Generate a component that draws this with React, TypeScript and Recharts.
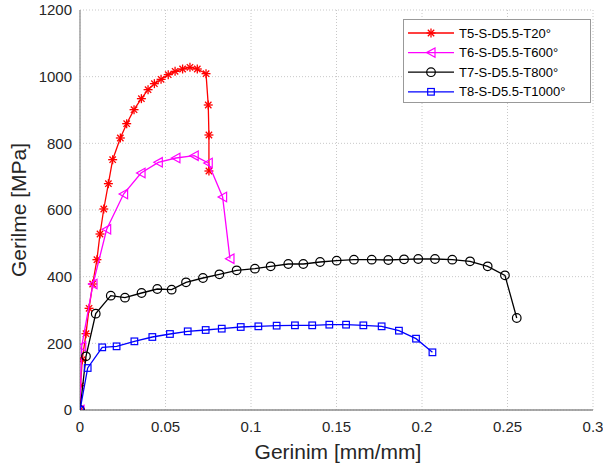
import { CartesianGrid, Scatter, ScatterChart, XAxis, YAxis } from "recharts"

const t5Strain = [0, 0.0003, 0.0013, 0.0035, 0.0053, 0.0074, 0.0099, 0.0117, 0.0139, 0.0166, 0.0191, 0.0236, 0.0273, 0.0316, 0.0359, 0.0398, 0.0435, 0.0474, 0.0516, 0.0556, 0.06, 0.0643, 0.0686, 0.0737, 0.075, 0.0754, 0.0754]
const t5Stress = [0, 73, 151, 229, 305, 378, 451, 528, 603, 679, 751, 816, 859, 901, 934, 961, 979, 992, 1006, 1016, 1023, 1028, 1023, 1009, 915, 825, 717]

const t6Strain = [0, 0.001, 0.0076, 0.0156, 0.0255, 0.0357, 0.0458, 0.0561, 0.0668, 0.075, 0.0834, 0.0877]
const t6Stress = [0, 191, 378, 542, 648, 711, 743, 756, 763, 741, 639, 454]

const t7Strain = [0, 0.0035, 0.0092, 0.018, 0.0263, 0.036, 0.0452, 0.0536, 0.062, 0.0719, 0.0815, 0.0916, 0.1023, 0.1115, 0.1218, 0.1306, 0.1404, 0.1501, 0.1602, 0.1706, 0.1803, 0.1895, 0.1978, 0.2076, 0.2177, 0.2281, 0.2384, 0.2485, 0.2554]
const t7Stress = [0, 161, 289, 343, 337, 351, 363, 361, 383, 396, 407, 419, 424, 431, 438, 438, 444, 448, 451, 451, 450, 452, 453, 453, 451, 446, 431, 404, 276]

const t8Strain = [0, 0.0045, 0.013, 0.0214, 0.0318, 0.0423, 0.0526, 0.063, 0.0735, 0.0829, 0.094, 0.1043, 0.115, 0.1257, 0.1358, 0.1458, 0.1556, 0.1657, 0.1764, 0.1865, 0.1965, 0.2061]
const t8Stress = [0, 126, 188, 191, 206, 219, 228, 236, 240, 244, 249, 251, 253, 254, 254, 256, 256, 254, 251, 238, 214, 173]

const xTicks = [0, 0.05, 0.1, 0.15, 0.2, 0.25, 0.3]
const yTicks = [0, 200, 400, 600, 800, 1000, 1200]

const FONT = "'Liberation Sans', Arial, sans-serif"

const zip = (xs: number[], ys: number[]) => xs.map((x, i) => ({ x, y: ys[i] }))

function Asterisk({ cx, cy, color }: any) {
  const r = 4.5
  const d = r * 0.707
  return (
    <g stroke={color} strokeWidth={1.3}>
      <line x1={cx - r} y1={cy} x2={cx + r} y2={cy} />
      <line x1={cx} y1={cy - r} x2={cx} y2={cy + r} />
      <line x1={cx - d} y1={cy - d} x2={cx + d} y2={cy + d} />
      <line x1={cx - d} y1={cy + d} x2={cx + d} y2={cy - d} />
    </g>
  )
}

function TriLeft({ cx, cy, color }: any) {
  return (
    <polygon
      points={`${cx - 4.5},${cy} ${cx + 4},${cy - 4.7} ${cx + 4},${cy + 4.7}`}
      fill="none"
      stroke={color}
      strokeWidth={1.2}
    />
  )
}

function Circ({ cx, cy, color }: any) {
  return <circle cx={cx} cy={cy} r={4.3} fill="none" stroke={color} strokeWidth={1.2} />
}

function Sq({ cx, cy, color }: any) {
  return <rect x={cx - 3.3} y={cy - 3.3} width={6.6} height={6.6} fill="none" stroke={color} strokeWidth={1.2} />
}

const series = [
  { name: "T5-S-D5.5-T20°", data: zip(t5Strain, t5Stress), color: "#ff0000", Marker: Asterisk },
  { name: "T6-S-D5.5-T600°", data: zip(t6Strain, t6Stress), color: "#ff00ff", Marker: TriLeft },
  { name: "T7-S-D5.5-T800°", data: zip(t7Strain, t7Stress), color: "#000000", Marker: Circ },
  { name: "T8-S-D5.5-T1000°", data: zip(t8Strain, t8Stress), color: "#0000ff", Marker: Sq },
]

function LegendBox() {
  return (
    <svg width={188} height={84} style={{ display: "block" }}>
      <rect x={0.5} y={0.5} width={187} height={83} fill="#fff" stroke="#999" />
      {series.map((s, i) => {
        const y = 14 + i * 19.6
        return (
          <g key={s.name}>
            <line x1={5} y1={y} x2={51} y2={y} stroke={s.color} strokeWidth={1.3} />
            <s.Marker cx={28} cy={y} color={s.color} />
            <text x={56} y={y + 4.6} fontSize={13} fontFamily={FONT} fill="#000">
              {s.name}
            </text>
          </g>
        )
      })}
    </svg>
  )
}

export default function App() {
  return (
    <div style={{ position: "absolute", left: 0, top: 0, width: 603, height: 470, background: "#fff" }}>
      <ScatterChart width={603} height={470} margin={{ top: 10, right: 10, bottom: 0, left: 0 }}>
        <CartesianGrid stroke="#c8c8c8" strokeDasharray="1 2" />
        <XAxis
          type="number"
          dataKey="x"
          domain={[0, 0.3]}
          ticks={xTicks}
          height={60}
          tickLine={false}
          tickMargin={5}
          axisLine={{ stroke: "#8c8c8c", strokeWidth: 1.3 }}
          tick={{ fill: "#262626", fontSize: 15, fontFamily: FONT }}
          tickFormatter={(v: number) => String(v)}
          allowDataOverflow
          label={{
            content: () => (
              <text x={338} y={459} textAnchor="middle" fontSize={21} fontFamily={FONT} fill="#262626">
                Gerinim [mm/mm]
              </text>
            ),
          }}
        />
        <XAxis xAxisId="top" orientation="top" type="number" domain={[0, 0.3]} height={0} tick={false} tickLine={false} axisLine={{ stroke: "#333" }} />
        <YAxis
          type="number"
          dataKey="y"
          domain={[0, 1200]}
          ticks={yTicks}
          width={80}
          tickLine={false}
          axisLine={{ stroke: "#a0a0a0", strokeWidth: 1.5 }}
          tick={{ fill: "#262626", fontSize: 15, fontFamily: FONT }}
          allowDataOverflow
          label={{
            content: () => (
              <text
                x={26}
                y={210}
                transform="rotate(-90, 26, 210)"
                textAnchor="middle"
                fontSize={21}
                fontFamily={FONT}
                fill="#262626"
              >
                Gerilme [MPa]
              </text>
            ),
          }}
        />
        <YAxis yAxisId="right" orientation="right" type="number" domain={[0, 1200]} width={0} tick={false} tickLine={false} axisLine={{ stroke: "#8c8c8c" }} />
        {series.map((s) => (
          <Scatter
            key={s.name}
            name={s.name}
            data={s.data}
            fill={s.color}
            line={{ stroke: s.color, strokeWidth: 1.3 }}
            lineType="joint"
            isAnimationActive={false}
            shape={(p: any) => <s.Marker cx={p.cx} cy={p.cy} color={s.color} />}
          />
        ))}
      </ScatterChart>
      <div style={{ position: "absolute", left: 403, top: 19 }}>
        <LegendBox />
      </div>
    </div>
  )
}
